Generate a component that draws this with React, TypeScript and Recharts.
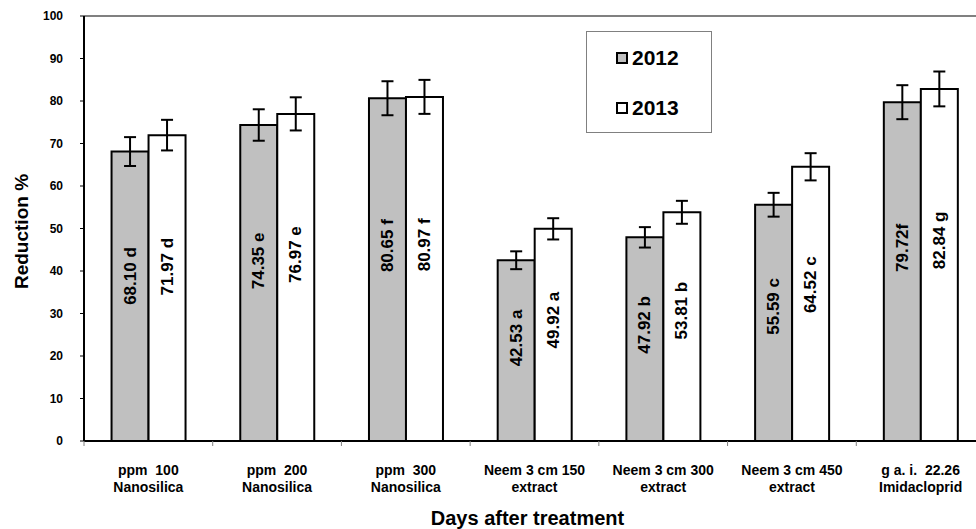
import React from "react";
import {
  BarChart,
  Bar,
  XAxis,
  YAxis,
  ErrorBar,
  LabelList,
  Legend,
  ReferenceLine,
} from "recharts";

const categories = [
  "ppm  100\nNanosilica",
  "ppm  200\nNanosilica",
  "ppm  300\nNanosilica",
  "Neem 3 cm 150\nextract",
  "Neem 3 cm 300\nextract",
  "Neem 3 cm 450\nextract",
  "g a. i.  22.26\nImidacloprid",
];
const reduction2012 = [68.1, 74.35, 80.65, 42.53, 47.92, 55.59, 79.72];
const reduction2013 = [71.97, 76.97, 80.97, 49.92, 53.81, 64.52, 82.84];
const error2012 = [3.4, 3.7, 4.0, 2.1, 2.4, 2.8, 4.0];
const error2013 = [3.6, 3.9, 4.0, 2.5, 2.7, 3.2, 4.1];
const labels2012 = ["68.10 d", "74.35 e", "80.65 f", "42.53 a", "47.92 b", "55.59 c", "79.72f"];
const labels2013 = ["71.97 d", "76.97 e", "80.97 f", "49.92 a", "53.81 b", "64.52 c", "82.84 g"];
const yTicks = [0, 10, 20, 30, 40, 50, 60, 70, 80, 90, 100];

const data = categories.map((name, i) => ({
  name,
  y2012: reduction2012[i],
  y2013: reduction2013[i],
  e2012: error2012[i],
  e2013: error2013[i],
  l2012: labels2012[i],
  l2013: labels2013[i],
}));

const FONT = "Arial, 'Liberation Sans', sans-serif";

const CategoryTick = (props: any) => {
  const { x, y, payload, width, visibleTicksCount } = props;
  const lines = String(payload.value).split("\n");
  const band = width && visibleTicksCount ? width / visibleTicksCount : 0;
  return (
    <g>
      {band ? (
        <line x1={x - band / 2} x2={x - band / 2} y1={y} y2={y + 5} stroke="#808080" />
      ) : null}
      <text
        x={x}
        y={y}
        textAnchor="middle"
        fontFamily={FONT}
        fontWeight="bold"
        fontSize={14}
        fill="#000"
        style={{ whiteSpace: "pre" }}
      >
        <tspan x={x} dy={34}>{lines[0]}</tspan>
        <tspan x={x} dy={17}>{lines[1]}</tspan>
      </text>
    </g>
  );
};

const BarText = (props: any) => {
  const vb = props.viewBox || props;
  const x = props.x ?? vb.x;
  const y = props.y ?? vb.y;
  const w = props.width ?? vb.width;
  const h = props.height ?? vb.height;
  const cx = x + w / 2;
  const cy = y + h * 0.43;
  return (
    <text
      x={cx}
      y={cy}
      transform={`rotate(-90 ${cx} ${cy})`}
      textAnchor="middle"
      dominantBaseline="central"
      fontFamily={FONT}
      fontWeight="bold"
      fontSize={17}
      fill="#000"
    >
      {props.value}
    </text>
  );
};

const LegendBox = () => (
  <div
    style={{
      position: "relative",
      width: 126,
      height: 102,
      boxSizing: "border-box",
      border: "1px solid #808080",
      background: "#fff",
      fontFamily: FONT,
      fontWeight: "bold",
      fontSize: 21,
      color: "#000",
    }}
  >
    {[
      { label: "2012", fill: "#c0c0c0", top: 10 },
      { label: "2013", fill: "#ffffff", top: 60 },
    ].map((s) => (
      <div
        key={s.label}
        style={{
          position: "absolute",
          left: 29,
          top: s.top,
          height: 32,
          display: "flex",
          alignItems: "center",
        }}
      >
        <span
          style={{
            display: "inline-block",
            width: 12,
            height: 12,
            boxSizing: "border-box",
            border: "2px solid #000",
            background: s.fill,
            marginRight: 4,
          }}
        />
        <span>{s.label}</span>
      </div>
    ))}
  </div>
);

export default function App() {
  return (
    <div
      style={{
        position: "absolute",
        left: 0,
        top: 0,
        width: 976,
        height: 529,
        overflow: "hidden",
        background: "#fff",
        fontFamily: FONT,
      }}
    >
      <BarChart
        width={1000}
        height={529}
        data={data}
        margin={{ top: 16, right: 15, bottom: 0, left: 0 }}
        barCategoryGap="21.4%"
        barGap={0}
      >
        <ReferenceLine y={100} stroke="#808080" strokeWidth={2} ifOverflow="visible" />
        <XAxis
          dataKey="name"
          height={88}
          interval={0}
          tickLine={false}
          tickSize={0}
          tickMargin={0}
          axisLine={{ stroke: "#000", strokeWidth: 2 }}
          tick={<CategoryTick />}
          label={{
            content: (p: any) => {
              const vb = p.viewBox;
              return (
                <text
                  x={vb.x + vb.width / 2 - 7}
                  y={vb.y + 84}
                  textAnchor="middle"
                  fontFamily={FONT}
                  fontWeight="bold"
                  fontSize={20}
                  fill="#000"
                >
                  Days after treatment
                </text>
              );
            },
          }}
        />
        <YAxis
          width={84}
          domain={[0, 100]}
          ticks={yTicks}
          interval={0}
          tickSize={4}
          tickMargin={17}
          tickLine={{ stroke: "#000" }}
          axisLine={{ stroke: "#000", strokeWidth: 2 }}
          tick={{ fill: "#000", fontSize: 12, fontWeight: "bold", fontFamily: FONT }}
          label={{
            content: (p: any) => {
              const vb = p.viewBox;
              const cx = vb.x + 21;
              const cy = vb.y + vb.height / 2 + 3;
              return (
                <text
                  x={cx}
                  y={cy}
                  transform={`rotate(-90 ${cx} ${cy})`}
                  textAnchor="middle"
                  dominantBaseline="central"
                  fontFamily={FONT}
                  fontWeight="bold"
                  fontSize={19}
                  fill="#000"
                >
                  Reduction %
                </text>
              );
            },
          }}
        />
        <Legend
          layout="vertical"
          align="center"
          verticalAlign="middle"
          content={<LegendBox />}
          wrapperStyle={{ position: "absolute", left: 586, top: 31, width: 126, height: 102 }}
        />
        <Bar dataKey="y2012" name="2012" fill="#c0c0c0" stroke="#000" strokeWidth={2} isAnimationActive={false}>
          <ErrorBar dataKey="e2012" width={6} stroke="#000" strokeWidth={2} isAnimationActive={false} />
          <LabelList dataKey="l2012" content={<BarText />} />
        </Bar>
        <Bar dataKey="y2013" name="2013" fill="#ffffff" stroke="#000" strokeWidth={2} isAnimationActive={false}>
          <ErrorBar dataKey="e2013" width={6} stroke="#000" strokeWidth={2} isAnimationActive={false} />
          <LabelList dataKey="l2013" content={<BarText />} />
        </Bar>
      </BarChart>
    </div>
  );
}
